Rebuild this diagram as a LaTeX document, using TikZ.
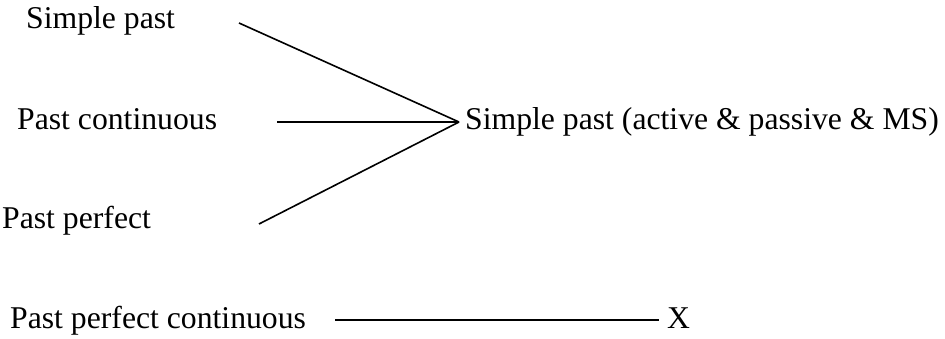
\documentclass[tikz,border=0pt]{standalone}
\usepackage{fontspec}
\setmainfont{Liberation Serif}
\begin{document}
\begin{tikzpicture}[x=1pt,y=-1pt,
  lbl/.style={anchor=base west,inner sep=0pt,font=\fontsize{31.7}{38}\selectfont},
  conn/.style={draw=black,line width=1.6pt}]
\useasboundingbox (0,0) rectangle (945,338);
\node[lbl] (sp) at (26,28) {Simple past};
\node[lbl] (pc) at (17,129) {Past continuous};
\node[lbl] (pp) at (2,228) {Past perfect};
\node[lbl] (ppc) at (10,328) {Past perfect continuous};
\node[lbl] (res) at (465,129) {Simple past (active \& passive \& MS)};
\node[lbl] (x) at (667,328) {X};
\coordinate (s1) at (239,23);
\coordinate (s2) at (277,122);
\coordinate (s3) at (259,224);
\coordinate (s4) at (335,320);
\coordinate (hub) at (459,122);
\coordinate (xend) at (659,320);
\draw[conn] (s1) -- (hub);
\draw[conn] (s2) -- (hub);
\draw[conn] (s3) -- (hub);
\draw[conn] (s4) -- (xend);
\end{tikzpicture}
\end{document}
